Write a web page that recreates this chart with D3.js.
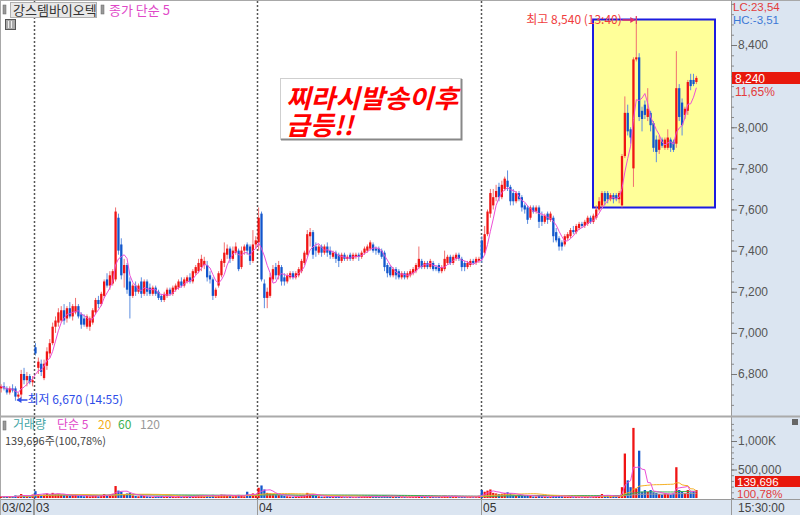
<!DOCTYPE html>
<html>
<head>
<meta charset="utf-8">
<script src="https://cdn.jsdelivr.net/npm/d3@7"></script>
<style>
  body { margin: 0; background: #fff; }
  svg { display: block; font-family: "Noto Sans CJK KR", "Liberation Sans", sans-serif; }
</style>
</head>
<body>
<svg id="chart"></svg>
<script>
// 5분봉 [시가, 고가, 저가, 종가]
const bars0302 = [
  [6730,6750,6710,6740],[6740,6760,6720,6730],[6730,6740,6700,6710],[6710,6740,6700,6730],
  [6730,6750,6710,6720],[6730,6740,6670,6690],[6690,6710,6670,6700],[6700,6820,6680,6800],
  [6800,6830,6750,6770],[6770,6810,6740,6790],[6790,6800,6750,6760],[6760,6790,6740,6770]
];
const bars0303 = [
  [6930,6950,6890,6900],[6830,6880,6800,6860],[6850,6870,6790,6810],[6780,6870,6770,6850],
  [6840,6930,6820,6910],[6900,6970,6880,6950],[6950,7050,6940,7030],[7030,7080,7000,7060],
  [7050,7120,7030,7100],[7060,7130,7050,7110],[7110,7140,7040,7060],[7070,7130,7050,7120],
  [7120,7150,7070,7080],[7080,7140,7060,7130],[7100,7170,7090,7130],[7130,7140,7070,7080],
  [7090,7100,7020,7040],[7070,7090,7030,7040],[7030,7090,7020,7080],[7030,7080,7010,7070],
  [7050,7120,7040,7110],[7100,7170,7090,7160],[7160,7180,7120,7140],[7140,7200,7130,7190],
  [7180,7260,7170,7250],[7260,7290,7220,7230],[7230,7300,7210,7280],[7240,7310,7230,7300],
  [7260,7610,7250,7590],[7560,7580,7380,7400],[7430,7460,7260,7280],[7290,7360,7220,7330],
  [7330,7340,7190,7210],[7250,7270,7070,7180],[7180,7240,7170,7230],[7230,7250,7180,7200],
  [7200,7240,7190,7230],[7250,7270,7170,7190],[7190,7260,7180,7250],[7250,7260,7180,7200],
  [7220,7240,7180,7190],[7190,7230,7180,7220],[7220,7230,7180,7190],[7200,7210,7160,7170],
  [7180,7190,7150,7160],[7160,7200,7150,7190],[7180,7220,7170,7210],[7210,7220,7180,7190],
  [7190,7230,7180,7220],[7210,7240,7200,7230],[7220,7260,7210,7250],[7250,7270,7220,7230],
  [7230,7270,7220,7260],[7250,7280,7240,7270],[7270,7290,7240,7250],[7250,7310,7240,7300],
  [7290,7330,7280,7320],[7300,7360,7290,7340],[7320,7380,7300,7360],[7330,7370,7310,7350],
  [7330,7350,7250,7270],[7280,7300,7240,7260],[7260,7270,7160,7180],[7180,7220,7170,7210],
  [7230,7300,7220,7290],[7280,7360,7270,7350],[7340,7440,7320,7390],[7380,7430,7360,7410],
  [7410,7420,7340,7360],[7360,7420,7350,7400],[7390,7440,7380,7420],[7400,7410,7300,7310],
  [7320,7420,7310,7400],[7400,7430,7380,7420],[7430,7440,7380,7400],[7420,7430,7330,7350],
  [7350,7500,7340,7430],[7430,7470,7410,7450]
];
const bars0304 = [
  [7440,7610,7400,7560],[7580,7590,7250,7260],[7240,7260,7120,7170],[7170,7220,7120,7200],
  [7180,7290,7170,7270],[7260,7330,7250,7310],[7320,7340,7260,7280],[7280,7350,7260,7330],
  [7320,7330,7230,7250],[7270,7290,7230,7250],[7250,7290,7240,7280],[7270,7300,7260,7290],
  [7290,7300,7260,7270],[7270,7300,7260,7290],[7280,7320,7270,7310],[7300,7360,7290,7350],
  [7340,7400,7330,7390],[7380,7500,7370,7480],[7470,7510,7420,7490],[7490,7500,7360,7380],
  [7420,7440,7370,7400],[7390,7430,7380,7420],[7420,7430,7370,7390],[7390,7430,7380,7420],
  [7420,7440,7370,7390],[7400,7420,7360,7380],[7370,7400,7360,7390],[7390,7400,7340,7360],
  [7380,7390,7320,7350],[7350,7390,7340,7380],[7380,7390,7350,7360],[7360,7380,7350,7370],
  [7380,7390,7350,7360],[7360,7390,7350,7380],[7370,7390,7360,7380],[7380,7390,7350,7370],
  [7370,7400,7360,7390],[7390,7420,7380,7410],[7400,7430,7390,7420],[7410,7450,7400,7440],
  [7430,7440,7390,7400],[7410,7420,7380,7400],[7410,7420,7380,7390],[7400,7410,7360,7370],
  [7390,7400,7300,7320],[7330,7340,7270,7290],[7320,7330,7270,7280],[7280,7320,7270,7310],
  [7310,7320,7260,7280],[7300,7310,7260,7270],[7270,7300,7260,7290],[7290,7300,7260,7270],
  [7270,7300,7260,7290],[7280,7310,7270,7300],[7290,7320,7280,7310],[7300,7340,7290,7330],
  [7320,7420,7310,7360],[7350,7360,7310,7320],[7320,7350,7310,7340],[7340,7350,7310,7320],
  [7320,7360,7310,7350],[7340,7350,7300,7310],[7320,7330,7300,7310],[7330,7340,7290,7300],
  [7300,7330,7290,7320],[7310,7400,7300,7360],[7340,7380,7330,7370],[7370,7380,7330,7340],
  [7340,7380,7330,7370],[7360,7390,7350,7380],[7380,7390,7350,7360],[7360,7370,7300,7320],
  [7340,7350,7300,7320],[7320,7350,7310,7340],[7330,7360,7320,7350],[7350,7360,7330,7340],
  [7340,7370,7330,7360],[7350,7370,7340,7360]
];
const bars0305 = [
  [7450,7470,7340,7360],[7390,7520,7380,7480],[7480,7600,7470,7590],[7580,7700,7560,7680],
  [7620,7700,7600,7660],[7660,7720,7640,7690],[7710,7730,7640,7660],[7660,7740,7650,7720],
  [7700,7760,7690,7750],[7740,7790,7690,7710],[7710,7720,7620,7640],[7680,7700,7620,7640],
  [7640,7690,7630,7680],[7680,7690,7640,7650],[7660,7670,7590,7610],[7620,7630,7580,7600],
  [7610,7620,7530,7550],[7560,7620,7550,7610],[7610,7620,7580,7590],[7590,7620,7580,7610],
  [7610,7620,7510,7540],[7570,7590,7520,7540],[7540,7580,7530,7570],[7580,7590,7530,7550],
  [7550,7590,7540,7580],[7560,7570,7440,7470],[7490,7510,7440,7450],[7460,7470,7400,7420],
  [7440,7450,7400,7420],[7430,7480,7420,7470],[7460,7490,7450,7480],[7470,7510,7460,7500],
  [7500,7520,7480,7490],[7490,7530,7480,7520],[7510,7540,7500,7530],[7530,7540,7510,7520],
  [7520,7550,7510,7540],[7530,7570,7520,7560],[7560,7570,7530,7540],[7540,7580,7530,7570],
  [7560,7620,7550,7600],[7600,7660,7590,7640],[7620,7690,7610,7680],[7680,7690,7620,7640],
  [7680,7690,7630,7650],[7650,7680,7640,7670],[7670,7680,7630,7650],[7670,7680,7640,7650],
  [7650,7690,7630,7680],[7620,7870,7610,7860],[7860,8150,7850,8070],[8070,8110,7960,7980],
  [7990,8000,7920,7950],[7800,8340,7710,8330],[8330,8540,8320,8340],[8340,8360,8030,8050],
  [8080,8100,7980,8040],[8110,8130,8040,8060],[8050,8190,8030,8090],[8070,8080,7980,8010],
  [8020,8030,7880,7900],[7940,7960,7830,7880],[7890,7960,7870,7940],[7940,7950,7900,7910],
  [7900,7950,7890,7940],[7900,7990,7890,7950],[7940,7950,7880,7900],[7930,7940,7880,7890],
  [7920,8370,7900,8190],[8190,8210,8030,8050],[8120,8140,7960,8010],[8060,8100,8040,8090],
  [8080,8230,8060,8220],[8230,8260,8180,8200],[8230,8260,8200,8210],[8220,8250,8210,8240]
];
// 거래량 (천주)
const vol0302 = [25,20,30,20,25,45,35,70,40,30,25,60];
const vol0303 = [120,70,55,60,80,65,90,70,75,60,50,45,40,50,55,35,40,30,35,30,40,45,30,40,70,50,60,75,
  210,130,110,70,80,90,45,35,30,45,35,30,25,20,25,30,35,20,25,20,25,20,30,20,25,25,20,35,40,50,45,30,
  45,30,55,30,50,60,55,40,35,30,40,55,45,30,110,50,80,60];
const vol0304 = [180,220,150,90,80,70,60,55,50,40,30,25,20,25,30,45,50,90,70,60,40,30,25,25,30,20,20,25,
  30,20,15,15,20,15,15,20,25,30,25,35,25,20,20,25,45,40,35,20,25,20,15,20,15,20,20,25,50,25,20,15,20,20,
  15,25,20,45,30,20,25,20,15,25,20,15,20,15,20,40];
const vol0305 = [140,110,130,150,90,80,70,75,90,100,80,60,45,40,55,40,50,35,25,25,45,30,25,20,20,40,35,45,
  30,25,20,20,15,20,15,15,20,20,15,25,40,50,70,40,35,30,35,30,50,190,780,310,190,1230,170,830,110,140,110,
  140,100,90,70,60,80,70,60,80,540,140,110,90,140,100,120,140];

const dayLabels = ["03/02", "03", "04", "05"];
const priceTicks = [6800, 7000, 7200, 7400, 7600, 7800, 8000, 8400];
const volTicks = [500000, 1000000];
const volLegend = [["거래량", "#44a6a6", 13], ["단순 5", "#e048c8", 57], ["20", "#f3ae20", 98],
  ["60", "#3cb050", 118], ["120", "#999999", 140]];

const bars = [].concat(bars0302, bars0303, bars0304, bars0305);
const vols = [].concat(vol0302, vol0303, vol0304, vol0305).map(v => v * 1000);
const dayStart = [0, bars0302.length, bars0302.length + bars0303.length,
  bars0302.length + bars0303.length + bars0304.length];

const W = 800, H = 515, plotR = 731;
const svg = d3.select("#chart").attr("width", W).attr("height", H);

const x = d3.scaleBand().domain(d3.range(255)).range([0, 729]).paddingInner(0.2).paddingOuter(0);
const bw = x.bandwidth();
const y = d3.scaleLinear().domain([6800, 8400]).range([374, 45]);
const yv = d3.scaleLinear().domain([0, 1000000]).range([498, 441]);

const UP = "#f01414", DOWN = "#1256cc", UPW = "#f07070", DOWNW = "#5d8ee0";

// 오른쪽 패널, 하단 시간축
svg.append("rect").attr("x", plotR).attr("y", 0).attr("width", W - plotR).attr("height", H).attr("fill", "#dbe5f1");
svg.append("rect").attr("x", 0).attr("y", 499).attr("width", plotR).attr("height", 16).attr("fill", "#dbe5f1");
svg.append("line").attr("x1", plotR + 0.5).attr("x2", plotR + 0.5).attr("y1", 0).attr("y2", H).attr("stroke", "#9a9a9a");
svg.append("line").attr("x1", 0).attr("x2", W).attr("y1", 499.5).attr("y2", 499.5).attr("stroke", "#9a9a9a");
svg.append("line").attr("x1", 0.5).attr("x2", 0.5).attr("y1", 0).attr("y2", H).attr("stroke", "#a8a8a8");
svg.append("line").attr("x1", 0).attr("x2", W).attr("y1", 0.5).attr("y2", 0.5).attr("stroke", "#a8a8a8");
svg.append("line").attr("x1", 0).attr("x2", W).attr("y1", 416.5).attr("y2", 416.5).attr("stroke", "#aaaaaa").attr("stroke-width", 2);

// 노란 박스
svg.append("rect").attr("x", 593).attr("y", 19.5).attr("width", 122).attr("height", 188)
  .attr("fill", "#ffff99").attr("stroke", "#1c1ce0").attr("stroke-width", 2);

// 날짜 구분 점선
dayStart.slice(1).forEach(i => {
  const xx = Math.round(x(i)) + 0.5;
  svg.append("line").attr("x1", xx).attr("x2", xx).attr("y1", 1).attr("y2", 499)
    .attr("stroke", "#555").attr("stroke-width", 1.5).attr("stroke-dasharray", "2,2");
});

// 캔들
const g = svg.append("g");
const candle = g.selectAll("g.c").data(bars).join("g").attr("class", "c");
candle.append("line")
  .attr("x1", (d, i) => x(i) + bw / 2).attr("x2", (d, i) => x(i) + bw / 2)
  .attr("y1", d => y(d[1])).attr("y2", d => y(d[2]))
  .attr("stroke", d => d[3] >= d[0] ? UPW : DOWNW).attr("stroke-width", 1);
candle.append("rect")
  .attr("x", (d, i) => x(i)).attr("width", bw)
  .attr("y", d => y(Math.max(d[0], d[3])))
  .attr("height", d => Math.max(1, Math.abs(y(d[0]) - y(d[3]))))
  .attr("fill", d => d[3] >= d[0] ? UP : DOWN);

// 종가 단순 5
const closes = bars.map(d => d[3]);
const ma = (arr, n) => arr.map((v, i) => d3.mean(arr.slice(Math.max(0, i - n + 1), i + 1)));
const ma5 = ma(closes, 5);
svg.append("path").datum(ma5)
  .attr("fill", "none").attr("stroke", "#ec4fd6").attr("stroke-width", 1)
  .attr("d", d3.line().x((d, i) => x(i) + bw / 2).y(d => y(d)));

// 거래량
svg.append("g").selectAll("rect").data(vols).join("rect")
  .attr("x", (d, i) => x(i)).attr("width", bw)
  .attr("y", d => yv(d)).attr("height", d => 498 - yv(d))
  .attr("fill", (d, i) => bars[i][3] >= bars[i][0] ? UP : DOWN);
[[120, "#a0a0a0"], [60, "#3cb050"], [20, "#f5b025"], [5, "#ec4fd6"]].forEach(([n, c]) => {
  svg.append("path").datum(ma(vols, n))
    .attr("fill", "none").attr("stroke", c).attr("stroke-width", 1)
    .attr("d", d3.line().x((d, i) => x(i) + bw / 2).y(d => yv(d)));
});

// 가격 축
const axisP = svg.append("g").attr("transform", `translate(${plotR},0)`);
axisP.call(d3.axisRight(y).tickValues(d3.range(6650, 8601, 50)).tickSize(3).tickFormat(""));
axisP.call(g2 => g2.select(".domain").remove());
axisP.selectAll("line").attr("stroke", "#8a8a8a");
const axisP2 = svg.append("g").attr("transform", `translate(${plotR},0)`)
  .call(d3.axisRight(y).tickValues(priceTicks).tickSize(6).tickPadding(1).tickFormat(d3.format(",")));
axisP2.select(".domain").remove();
axisP2.selectAll("line").attr("stroke", "#777");
axisP2.selectAll("text").attr("fill", "#555").attr("font-size", 12).attr("font-family", "Liberation Sans");

// 거래량 축
const axisV = svg.append("g").attr("transform", `translate(${plotR},0)`)
  .call(d3.axisRight(yv).tickValues(d3.range(0, 1400001, 100000)).tickSize(3).tickFormat(""));
axisV.select(".domain").remove();
axisV.selectAll("line").attr("stroke", "#8a8a8a");
axisV.selectAll(".tick").filter(d => yv(d) < 420).remove();
const axisV2 = svg.append("g").attr("transform", `translate(${plotR},0)`)
  .call(d3.axisRight(yv).tickValues(volTicks).tickSize(6).tickPadding(1)
    .tickFormat(d => d >= 1000000 ? d3.format(",")(d / 1000) + "K" : d3.format(",")(d)));
axisV2.select(".domain").remove();
axisV2.selectAll("line").attr("stroke", "#777");
axisV2.selectAll("text").attr("fill", "#555").attr("font-size", 12).attr("font-family", "Liberation Sans");

// 오른쪽 패널 텍스트
const txt = (xx, yy, s, fill, size, fam) => svg.append("text").attr("x", xx).attr("y", yy)
  .attr("fill", fill).attr("font-size", size || 12).attr("font-family", fam || "Liberation Sans").text(s);
txt(733, 11, "LC:23,54", "#e23c3c", 11.5);
txt(733, 23.5, "HC:-3,51", "#3b78d6", 11.5);
svg.append("rect").attr("x", 732).attr("y", 72).attr("width", 68).attr("height", 12).attr("fill", "#e8180c");
txt(735, 82.5, "8,240", "#fff");
txt(735, 96, "11,65%", "#e23c3c");
svg.append("rect").attr("x", 735).attr("y", 476).attr("width", 65).attr("height", 11).attr("fill", "#e8180c");
txt(737, 485.5, "139,696", "#fff", 11.5);
txt(737, 498, "100,78%", "#e23c3c", 11.5);
txt(738, 512, "15:30:00", "#444");
svg.append("rect").attr("x", 792).attr("y", 419).attr("width", 6).attr("height", 6).attr("fill", "#666");

// 하단 날짜
svg.append("line").attr("x1", 33.5).attr("x2", 33.5).attr("y1", 500).attr("y2", 515).attr("stroke", "#9a9a9a");
dayStart.forEach((i, k) => {
  const xx = k === 0 ? 2 : Math.round(x(i)) + 2;
  if (k > 0) svg.append("line").attr("x1", Math.round(x(i)) + 0.5).attr("x2", Math.round(x(i)) + 0.5)
    .attr("y1", 500).attr("y2", 515).attr("stroke", "#9a9a9a");
  txt(xx, 512, dayLabels[k], "#333", 12);
});

// 상단 범례
svg.append("rect").attr("x", 3).attr("y", 5).attr("width", 3).attr("height", 9).attr("fill", "#999").attr("stroke", "#666").attr("stroke-width", 0.5);
svg.append("rect").attr("x", 10.5).attr("y", 2.5).attr("width", 86).attr("height", 15).attr("fill", "#e8e8e8").attr("stroke", "#b0b0b0");
txt(13, 15, "강스템바이오텍", "#333", 13, "Noto Sans CJK KR");
svg.append("rect").attr("x", 101).attr("y", 5).attr("width", 3).attr("height", 9).attr("fill", "#999").attr("stroke", "#666").attr("stroke-width", 0.5);
txt(109, 15, "종가 단순 5", "#e048c8", 13, "Noto Sans CJK KR");
svg.append("rect").attr("x", 5.5).attr("y", 19.5).attr("width", 10).attr("height", 10).attr("fill", "#aaa").attr("stroke", "#555");
[8.5, 11.5].forEach(v => svg.append("line").attr("x1", v).attr("x2", v).attr("y1", 21).attr("y2", 28).attr("stroke", "#eee"));

// 거래량 범례
svg.append("rect").attr("x", 3).attr("y", 421).attr("width", 3).attr("height", 9).attr("fill", "#999").attr("stroke", "#666").attr("stroke-width", 0.5);
volLegend.forEach(([s, c, xx]) => txt(xx, 428.5, s, c, 12, "Noto Sans CJK KR"));
txt(5, 445, "139,696주(100,78%)", "#444", 11, "Noto Sans CJK KR");

// 최고 / 최저 표시
const iHigh = bars.findIndex(d => d[1] === d3.max(bars, b => b[1]));
const iLow = bars.findIndex(d => d[2] === d3.min(bars, b => b[2]));
const xh = x(iHigh) + bw / 2, yh = 20;
txt(xh - 110, yh + 4, "최고 8,540 (13:40)", "#f03c3c", 12, "Noto Sans CJK KR");
svg.append("line").attr("x1", xh - 14).attr("x2", xh - 2).attr("y1", yh).attr("y2", yh).attr("stroke", "#e0306a").attr("stroke-width", 1.5);
svg.append("path").attr("d", `M${xh - 1},${yh} l-5,-3 v6 z`).attr("fill", "#e0306a");
svg.append("line").attr("x1", xh).attr("x2", xh).attr("y1", yh - 4).attr("y2", yh + 4).attr("stroke", "#e0306a");
const xl = x(iLow) + bw / 2, yl = 400;
svg.append("line").attr("x1", xl + 2).attr("x2", xl + 12).attr("y1", yl).attr("y2", yl).attr("stroke", "#2f4ee8").attr("stroke-width", 1.5);
svg.append("path").attr("d", `M${xl + 1},${yl} l5,-3 v6 z`).attr("fill", "#2f4ee8");
txt(xl + 12, yl + 4, "최저 6,670 (14:55)", "#2f4ee8", 12, "Noto Sans CJK KR");

// 주석 박스
svg.append("rect").attr("x", 280.5).attr("y", 78.5).attr("width", 181).attr("height", 61)
  .attr("fill", "#fff").attr("stroke", "#cfcfcf");
svg.append("path").attr("d", "M281,139.5 H461.5 V79").attr("fill", "none").attr("stroke", "#888").attr("stroke-width", 2);
const noteStyle = t => t.attr("font-family", "Noto Sans CJK KR").attr("font-weight", "bold")
  .attr("font-style", "italic").attr("fill", "#ff0000").attr("font-size", 26);
noteStyle(svg.append("text").attr("x", 286).attr("y", 108)
  .attr("textLength", 172).attr("lengthAdjust", "spacingAndGlyphs").text("찌라시발송이후"));
noteStyle(svg.append("text").attr("x", 286).attr("y", 135).text("급등!!"));
</script>
</body>
</html>
